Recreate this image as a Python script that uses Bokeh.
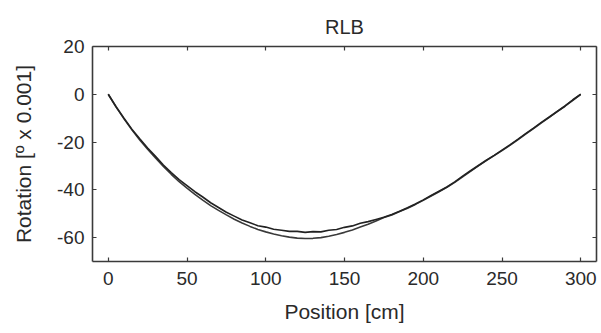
from bokeh.plotting import figure
from bokeh.models import Range1d, LinearAxis, FixedTicker
from bokeh.embed import file_html
from bokeh.resources import INLINE

# ---- data ----
position = [0, 5, 10, 15, 20, 25, 30, 35, 40, 45, 50, 55, 60, 65, 70, 75, 80, 85, 90, 95,
            100, 105, 110, 115, 120, 125, 130, 135, 140, 145, 150, 155, 160, 165, 170, 175,
            180, 185, 190, 195, 200, 205, 210, 215, 220, 225, 230, 235, 240, 245, 250, 255,
            260, 265, 270, 275, 280, 285, 290, 295, 300]
rotation_a = [0, -5.2, -10, -14.6, -18.6, -22.5, -26, -29.6, -32.8, -35.7, -38.2, -40.8, -43,
              -45.4, -47.4, -49.4, -51, -52.6, -53.8, -55, -55.6, -56.5, -56.9, -57.4, -57.4,
              -57.8, -57.5, -57.6, -56.9, -56.6, -55.7, -55.1, -54, -53.3, -52.4, -51.5, -50.3,
              -49, -47.5, -45.9, -44.2, -42.4, -40.6, -38.8, -36.7, -34.3, -32, -29.8, -27.6,
              -25.6, -23.4, -21.2, -18.9, -16.5, -14.2, -11.8, -9.5, -7.2, -4.9, -2.3, 0]
rotation_b = [0, -5.4, -10.3, -14.9, -19.1, -23, -26.7, -30.2, -33.5, -36.6, -39.3, -41.9,
              -44.3, -46.6, -48.6, -50.5, -52.3, -53.9, -55.3, -56.6, -57.6, -58.5, -59.2,
              -59.8, -60.2, -60.4, -60.3, -60, -59.4, -58.7, -57.8, -56.8, -55.6, -54.4, -53,
              -51.6, -50.5, -49.1, -47.7, -46.1, -44.4, -42.6, -40.8, -38.9, -36.9, -34.6,
              -32.3, -30, -27.8, -25.7, -23.6, -21.4, -19.1, -16.7, -14.4, -12, -9.7, -7.3,
              -5, -2.5, 0]
x_ticks = [0, 50, 100, 150, 200, 250, 300]
x_tick_labels = ["0", "50", "100", "150", "200", "250", "300"]
y_ticks = [-60, -40, -20, 0, 20]
y_tick_labels = ["-60", "-40", "-20", "0", "20"]

FONT = "Liberation Sans"
TXT = "#2a2a2a"
AX = "#3a3a3a"

p = figure(width=598, height=330, output_backend="svg", toolbar_location=None,
           x_range=Range1d(-10, 310), y_range=Range1d(-70, 20),
           title="RLB", min_border_left=92, min_border_right=2,
           min_border_top=46, min_border_bottom=69)
p.title.align = "center"
p.title.text_font = FONT
p.title.text_font_size = "20px"
p.title.text_font_style = "normal"
p.title.text_color = TXT
p.title.standoff = 18
p.grid.visible = False
p.outline_line_color = None
p.background_fill_color = "white"
p.border_fill_color = "white"

p.line(position, rotation_b, line_color="#3a3a3a", line_width=1.6)
p.line(position, rotation_a, line_color="#222222", line_width=1.6)

def style_axis(ax):
    ax.axis_line_color = AX
    ax.axis_line_width = 1.6
    ax.major_tick_line_color = AX
    ax.major_tick_line_width = 1.2
    ax.major_tick_in = 4
    ax.major_tick_out = 0
    ax.minor_tick_line_color = None
    ax.major_label_text_font = FONT
    ax.major_label_text_font_size = "19px"
    ax.major_label_text_color = TXT
    ax.axis_label_text_font = FONT
    ax.axis_label_text_font_size = "21px"
    ax.axis_label_text_font_style = "normal"
    ax.axis_label_text_color = TXT

xa = p.xaxis[0]
xa.ticker = FixedTicker(ticks=x_ticks)
xa.major_label_overrides = dict(zip(x_ticks, x_tick_labels))
style_axis(xa)
xa.axis_label = "Position [cm]"
xa.major_label_standoff = 10
xa.axis_label_standoff = 12

ya = p.yaxis[0]
ya.ticker = FixedTicker(ticks=y_ticks)
ya.major_label_overrides = dict(zip(y_ticks, y_tick_labels))
style_axis(ya)
ya.axis_label = "Rotation [º x 0.001]"
ya.major_label_standoff = 8
ya.axis_label_standoff = 19

top = LinearAxis(ticker=FixedTicker(ticks=x_ticks))
style_axis(top)
top.major_label_overrides = {t: "" for t in x_ticks}
top.major_label_standoff = 0
p.add_layout(top, "above")
right = LinearAxis(ticker=FixedTicker(ticks=y_ticks))
style_axis(right)
right.major_label_overrides = {t: "" for t in y_ticks}
right.major_label_standoff = 0
p.add_layout(right, "right")

open("out.html", "w").write(file_html(p, INLINE))
